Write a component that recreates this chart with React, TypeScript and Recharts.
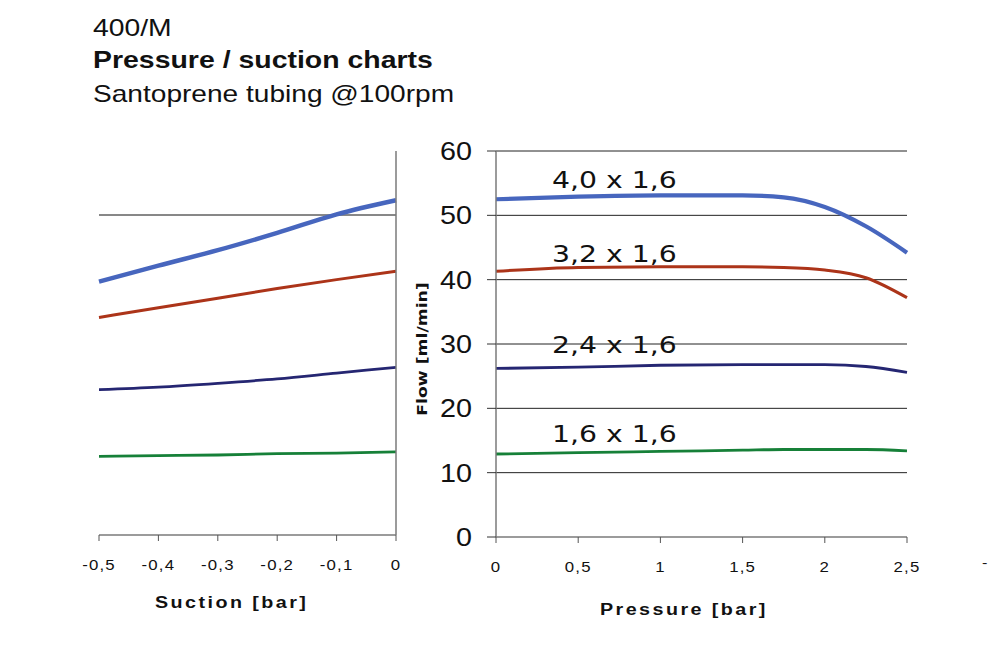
import React from 'react';
import { LineChart, Line, XAxis, YAxis, ReferenceLine } from 'recharts';

// ---- data ----
const suctionX = [-0.5, -0.4, -0.3, -0.2, -0.1, 0];
const suction40 = [39.6, 42.1, 44.5, 47.2, 50.1, 52.3];
const suction32 = [34.0, 35.5, 37.0, 38.5, 39.9, 41.2];
const suction24 = [22.7, 23.1, 23.7, 24.4, 25.3, 26.2];
const suction16 = [12.3, 12.4, 12.5, 12.7, 12.8, 13.0];

const pressureX = [0, 0.5, 1, 1.5, 1.75, 2, 2.25, 2.5];
const pressure40 = [52.5, 52.9, 53.1, 53.1, 52.8, 51.3, 48.3, 44.2];
const pressure32 = [41.3, 41.9, 42.0, 42.0, 41.9, 41.5, 40.3, 37.2];
const pressure24 = [26.2, 26.4, 26.7, 26.8, 26.8, 26.8, 26.5, 25.6];
const pressure16 = [12.9, 13.1, 13.3, 13.5, 13.6, 13.6, 13.6, 13.4];

const suctionTicks = [-0.5, -0.4, -0.3, -0.2, -0.1, 0];
const pressureTicks = [0, 0.5, 1, 1.5, 2, 2.5];
const flowTicks = [0, 10, 20, 30, 40, 50, 60];
const leftGridValues = [50];
const seriesLabels = ['4,0 x 1,6', '3,2 x 1,6', '2,4 x 1,6', '1,6 x 1,6'];
const titleLines = ['400/M', 'Pressure / suction charts', 'Santoprene tubing @100rpm'];

const COLORS = { s40: '#4766be', s32: '#ac3419', s24: '#252672', s16: '#168038' };

const suctionData = suctionX.map((x, i) => ({
  x, s40: suction40[i], s32: suction32[i], s24: suction24[i], s16: suction16[i],
}));
const pressureData = pressureX.map((x, i) => ({
  x, s40: pressure40[i], s32: pressure32[i], s24: pressure24[i], s16: pressure16[i],
}));

const fmt = (v: number) => String(v).replace('.', ',');
const SANS = "'Liberation Sans', Arial, Helvetica, sans-serif";
const DEJAVU = "'DejaVu Sans', Verdana, sans-serif";

function SmallTick(props: any) {
  const { x, y, payload } = props;
  return (
    <g transform={`translate(${x},${y})`}>
      <text transform="scale(1.2,1)" x={0} y={0} dy={27} textAnchor="middle"
        fontSize={14} fontFamily={SANS} fill="#111" letterSpacing={1}>
        {fmt(payload.value)}
      </text>
    </g>
  );
}

function BigYTick(props: any) {
  const { x, y, payload } = props;
  return (
    <g transform={`translate(${x - 13},${y})`}>
      <text transform="scale(1.15,1)" x={0} y={0} dy={9} textAnchor="end"
        fontSize={25} fontFamily={SANS} fill="#111">
        {payload.value}
      </text>
    </g>
  );
}

function Txt({ left, top, size, bold, family, scale = 1.23, spacing = 0, children }: any) {
  return (
    <div style={{
      position: 'absolute', left, top, fontSize: size, lineHeight: `${size}px`,
      fontWeight: bold ? 700 : 400, fontFamily: family || SANS, whiteSpace: 'nowrap',
      transform: `scaleX(${scale})`, transformOrigin: '0 0', color: '#111',
      letterSpacing: spacing,
    }}>{children}</div>
  );
}

const labelTops = [168.5, 242.5, 333.5, 422.5];

export default function App() {
  return (
    <div style={{ position: 'absolute', left: 0, top: 0, width: 992, height: 650, background: '#fff', overflow: 'hidden' }}>
      <Txt left={93} top={15.7} size={24} scale={1.18}>{titleLines[0]}</Txt>
      <Txt left={93} top={47.7} size={24} scale={1.185} bold>{titleLines[1]}</Txt>
      <Txt left={93} top={81.7} size={24} scale={1.17}>{titleLines[2]}</Txt>

      <div style={{ position: 'absolute', left: 0, top: 0 }}>
        <LineChart width={450} height={650} data={suctionData}
          margin={{ top: 151, right: 24, bottom: 35, left: 99 }}>
          <XAxis dataKey="x" type="number" domain={[-0.5, 0]} ticks={suctionTicks}
            tick={<SmallTick />} tickSize={6} height={80} interval={0}
            axisLine={{ stroke: '#7a7a7a', strokeWidth: 1.5 }} tickLine={{ stroke: '#555' }} />
          <YAxis orientation="right" type="number" domain={[0, 60]} ticks={flowTicks}
            tick={false} tickSize={6} width={30}
            axisLine={{ stroke: '#7a7a7a', strokeWidth: 1.5 }} tickLine={{ stroke: '#555' }} />
          {leftGridValues.map((v) => (
            <ReferenceLine key={v} y={v} stroke="#111" strokeWidth={1} />
          ))}
          <Line type="monotone" dataKey="s40" stroke={COLORS.s40} strokeWidth={4.5} dot={false} isAnimationActive={false} />
          <Line type="monotone" dataKey="s32" stroke={COLORS.s32} strokeWidth={3} dot={false} isAnimationActive={false} />
          <Line type="monotone" dataKey="s24" stroke={COLORS.s24} strokeWidth={2.8} dot={false} isAnimationActive={false} />
          <Line type="monotone" dataKey="s16" stroke={COLORS.s16} strokeWidth={2.8} dot={false} isAnimationActive={false} />
        </LineChart>
      </div>

      <div style={{ position: 'absolute', left: 400, top: 0 }}>
        <LineChart width={592} height={650} data={pressureData}
          margin={{ top: 151, right: 85, bottom: 33, left: 26 }}>
          <XAxis dataKey="x" type="number" domain={[0, 2.5]} ticks={pressureTicks}
            tick={<SmallTick />} tickSize={6} height={80} interval={0}
            axisLine={{ stroke: '#7a7a7a', strokeWidth: 1.5 }} tickLine={{ stroke: '#555' }} />
          <YAxis type="number" domain={[0, 60]} ticks={flowTicks} tick={<BigYTick />}
            tickSize={9} width={70} interval={0}
            axisLine={{ stroke: '#7a7a7a', strokeWidth: 1.5 }} tickLine={{ stroke: '#333' }} />
          {flowTicks.filter((v) => v > 0).map((v) => (
            <ReferenceLine key={v} y={v} stroke="#222" strokeWidth={1} />
          ))}
          <Line type="monotone" dataKey="s40" stroke={COLORS.s40} strokeWidth={4.2} dot={false} isAnimationActive={false} />
          <Line type="monotone" dataKey="s32" stroke={COLORS.s32} strokeWidth={3} dot={false} isAnimationActive={false} />
          <Line type="monotone" dataKey="s24" stroke={COLORS.s24} strokeWidth={2.8} dot={false} isAnimationActive={false} />
          <Line type="monotone" dataKey="s16" stroke={COLORS.s16} strokeWidth={2.8} dot={false} isAnimationActive={false} />
        </LineChart>
      </div>

      {seriesLabels.map((s, i) => (
        <Txt key={s} left={552} top={labelTops[i]} size={23} family={DEJAVU} scale={1.23}>{s}</Txt>
      ))}

      <Txt left={155} top={594.5} size={16} bold spacing={2}>Suction [bar]</Txt>
      <Txt left={600} top={601.5} size={16} bold spacing={2}>Pressure [bar]</Txt>
      <Txt left={982} top={556} size={13} scale={1.25}>-</Txt>

      <div style={{
        position: 'absolute', left: 422, top: 349, transform: 'translate(-50%,-50%) rotate(-90deg) scaleX(1.23)',
        fontFamily: DEJAVU, fontWeight: 700, fontSize: 14, lineHeight: '14px', whiteSpace: 'nowrap', color: '#111',
      }}>Flow [ml/min]</div>
    </div>
  );
}
